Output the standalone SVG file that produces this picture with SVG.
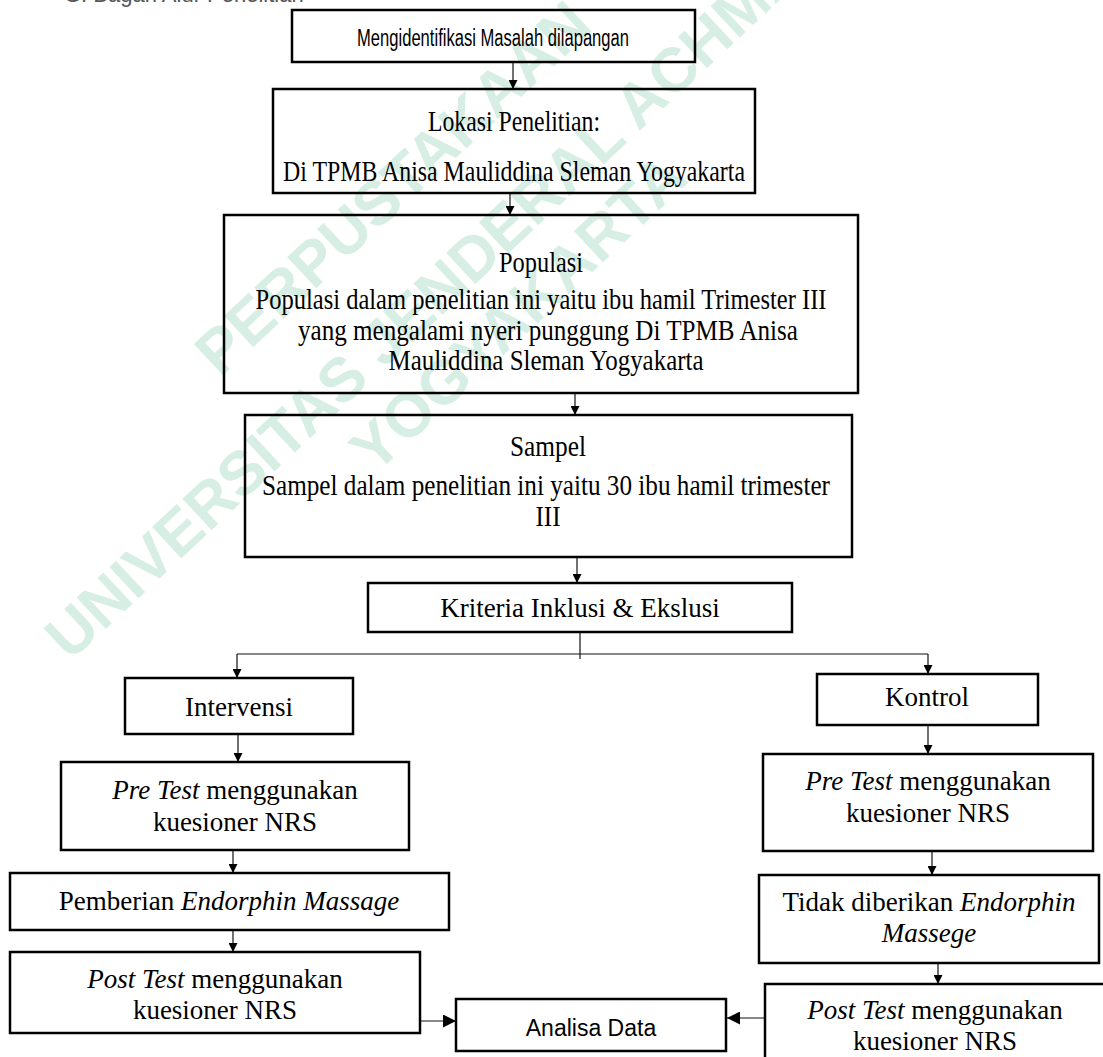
<svg xmlns="http://www.w3.org/2000/svg" width="1103" height="1057" viewBox="0 0 1103 1057">
<style>
.box{fill:none;stroke:#000;stroke-width:2.5}
.t{font-family:"Liberation Serif","Times New Roman",serif;font-size:27px;text-anchor:middle;fill:#000}
.u{font-family:"Liberation Serif","Times New Roman",serif;font-size:29px;text-anchor:middle;fill:#000}
.s{font-family:"Liberation Sans",Arial,sans-serif;font-size:23px;text-anchor:middle;fill:#000}
.i{font-style:italic}
.c{stroke:#111;stroke-width:1.2;fill:none}
.wm{font-family:"Liberation Sans",Arial,sans-serif;font-weight:bold;font-size:62px;fill:#d6eee3}
</style>
<defs>
<marker id="ah" viewBox="0 0 10 10" refX="10" refY="5" markerWidth="9" markerHeight="9" markerUnits="userSpaceOnUse" orient="auto">
<path d="M0,0 L10,5 L0,10 z" fill="#000"/>
</marker>
<marker id="ahb" viewBox="0 0 10 10" refX="10" refY="5" markerWidth="13" markerHeight="13" markerUnits="userSpaceOnUse" orient="auto">
<path d="M0,0 L10,5 L0,10 z" fill="#000"/>
</marker>
</defs>
<rect x="0" y="0" width="1103" height="1057" fill="#fff"/>
<g id="watermark">
<text class="wm" transform="translate(220,378) rotate(-43)">PERPUSTAKAAN</text>
<text class="wm" transform="translate(70,662) rotate(-43)">UNIVERSITAS JENDERAL ACHMAD YANI</text>
<text class="wm" transform="translate(375,475) rotate(-43)">YOGYAKARTA</text>
</g>
<text x="64" y="2" font-family="Liberation Sans, Arial, sans-serif" font-size="22" fill="#555">G. Bagan Alur Penelitian</text>
<g id="connectors">
<path class="c" d="M513 62 V89" marker-end="url(#ah)"/>
<path class="c" d="M510 193 V215" marker-end="url(#ah)"/>
<path class="c" d="M575 393 V415" marker-end="url(#ah)"/>
<path class="c" d="M577 557 V583" marker-end="url(#ah)"/>
<path class="c" d="M580 632 V659"/>
<path class="c" d="M237 654 H928"/>
<path class="c" d="M237 654 V678" marker-end="url(#ah)"/>
<path class="c" d="M928 654 V674" marker-end="url(#ah)"/>
<path class="c" d="M238 734 V762" marker-end="url(#ah)"/>
<path class="c" d="M233 850 V873" marker-end="url(#ah)"/>
<path class="c" d="M233 930 V952" marker-end="url(#ah)"/>
<path class="c" d="M420 1021 H456" marker-end="url(#ahb)"/>
<path class="c" d="M928 725 V754" marker-end="url(#ah)"/>
<path class="c" d="M932 851 V875" marker-end="url(#ah)"/>
<path class="c" d="M938 963 V984" marker-end="url(#ah)"/>
<path class="c" d="M765 1018 H727" marker-end="url(#ahb)"/>
</g>
<g id="n1">
<rect class="box" x="292" y="10" width="403" height="52"/>
<text class="s" x="493" y="46" textLength="272" lengthAdjust="spacingAndGlyphs">Mengidentifikasi Masalah dilapangan</text>
</g>
<g id="n2">
<rect class="box" x="273" y="89" width="482" height="104"/>
<text class="u" x="514" y="131" textLength="172" lengthAdjust="spacingAndGlyphs">Lokasi Penelitian:</text>
<text class="u" x="514" y="181" textLength="462" lengthAdjust="spacingAndGlyphs">Di TPMB Anisa Mauliddina Sleman Yogyakarta</text>
</g>
<g id="n3">
<rect class="box" x="224" y="215" width="634" height="178"/>
<text class="u" x="541" y="272" textLength="84" lengthAdjust="spacingAndGlyphs">Populasi</text>
<text class="u" x="541" y="309" textLength="571" lengthAdjust="spacingAndGlyphs">Populasi dalam penelitian ini yaitu ibu hamil Trimester III</text>
<text class="u" x="548" y="340" textLength="500" lengthAdjust="spacingAndGlyphs">yang mengalami nyeri punggung Di TPMB Anisa</text>
<text class="u" x="546" y="370" textLength="315" lengthAdjust="spacingAndGlyphs">Mauliddina Sleman Yogyakarta</text>
</g>
<g id="n4">
<rect class="box" x="245" y="415" width="607" height="142"/>
<text class="u" x="548" y="456" textLength="76" lengthAdjust="spacingAndGlyphs">Sampel</text>
<text class="u" x="546" y="495" textLength="568" lengthAdjust="spacingAndGlyphs">Sampel dalam penelitian ini yaitu 30 ibu hamil trimester</text>
<text class="u" x="548" y="526" textLength="25" lengthAdjust="spacingAndGlyphs">III</text>
</g>
<g id="n5">
<rect class="box" x="368" y="583" width="424" height="49"/>
<text class="t" x="580" y="617">Kriteria Inklusi &amp; Ekslusi</text>
</g>
<g id="n6">
<rect class="box" x="125" y="678" width="228" height="56"/>
<text class="t" x="239" y="716">Intervensi</text>
</g>
<g id="n7">
<rect class="box" x="61" y="762" width="348" height="88"/>
<text class="t" x="235" y="799"><tspan class="i">Pre Test</tspan> menggunakan</text>
<text class="t" x="235" y="831">kuesioner NRS</text>
</g>
<g id="n8">
<rect class="box" x="10" y="873" width="439" height="57"/>
<text class="t" x="229" y="910">Pemberian <tspan class="i">Endorphin Massage</tspan></text>
</g>
<g id="n9">
<rect class="box" x="10" y="952" width="410" height="81"/>
<text class="t" x="215" y="988"><tspan class="i">Post Test</tspan> menggunakan</text>
<text class="t" x="215" y="1019">kuesioner NRS</text>
</g>
<g id="n10">
<rect class="box" x="456" y="999" width="270" height="52"/>
<text class="s" x="591" y="1036">Analisa Data</text>
</g>
<g id="n11">
<rect class="box" x="817" y="674" width="221" height="51"/>
<text class="t" x="927" y="706">Kontrol</text>
</g>
<g id="n12">
<rect class="box" x="763" y="754" width="330" height="97"/>
<text class="t" x="928" y="790"><tspan class="i">Pre Test</tspan> menggunakan</text>
<text class="t" x="928" y="822">kuesioner NRS</text>
</g>
<g id="n13">
<rect class="box" x="759" y="875" width="340" height="88"/>
<text class="t" x="929" y="911">Tidak diberikan <tspan class="i">Endorphin</tspan></text>
<text class="t i" x="929" y="942">Massege</text>
</g>
<g id="n14">
<rect class="box" x="765" y="984" width="345" height="80"/>
<text class="t" x="935" y="1019"><tspan class="i">Post Test</tspan> menggunakan</text>
<text class="t" x="935" y="1050">kuesioner NRS</text>
</g>
</svg>
